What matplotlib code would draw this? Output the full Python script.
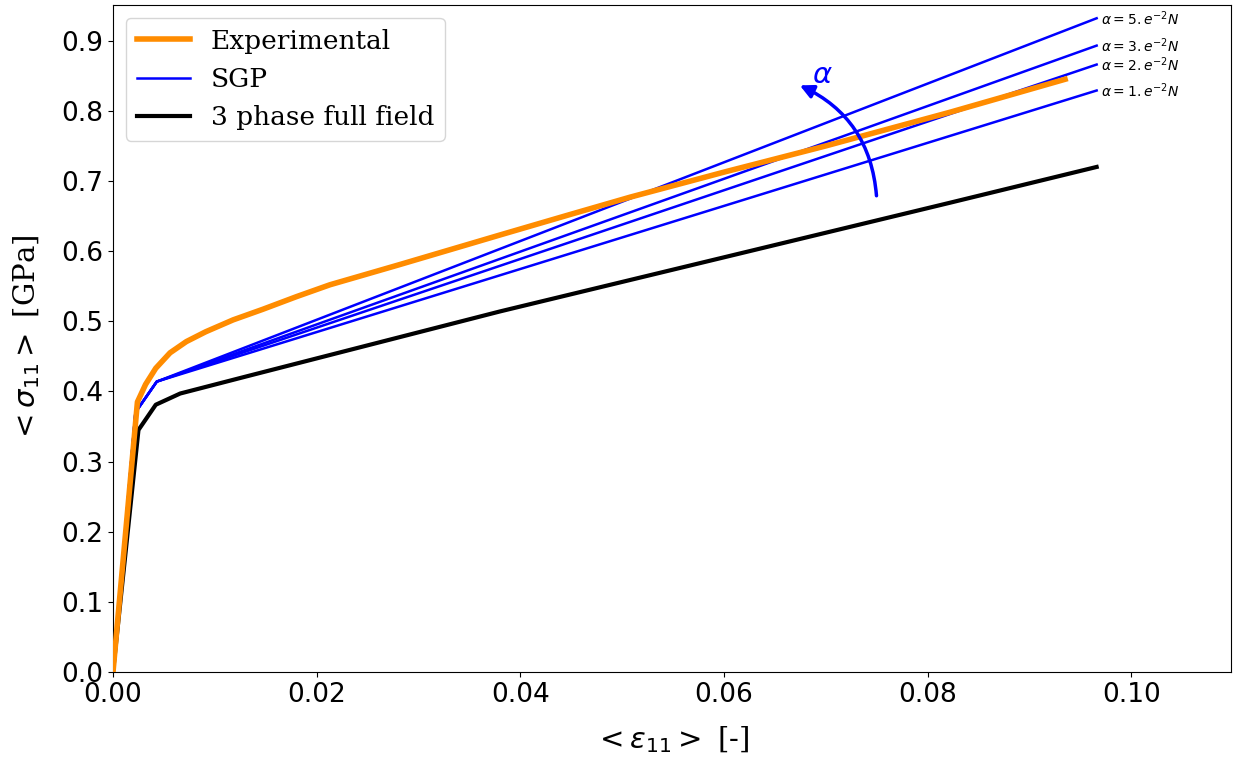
import matplotlib
matplotlib.use("Agg")
import matplotlib.pyplot as plt
from matplotlib.patches import FancyArrowPatch

# Experimental curve
exp_strain = [0.0, 0.0024, 0.0032, 0.0042, 0.0056, 0.0072, 0.0091, 0.0118, 0.0147, 0.018, 0.0213,
              0.0282, 0.038, 0.0446, 0.0508, 0.0601, 0.07, 0.0822, 0.0935]
exp_stress = [0.0, 0.385, 0.41, 0.433, 0.455, 0.471, 0.485, 0.502, 0.517, 0.535, 0.552,
              0.581, 0.623, 0.651, 0.677, 0.713, 0.75, 0.798, 0.845]

# SGP curves
sgp_strain = [0.0, 0.0022, 0.0043, 0.0966]
sgp_alpha1 = [0.0, 0.37, 0.414, 0.829]
sgp_alpha2 = [0.0, 0.37, 0.414, 0.866]
sgp_alpha3 = [0.0, 0.37, 0.414, 0.893]
sgp_alpha5 = [0.0, 0.37, 0.414, 0.932]
sgp_labels = [r"$\alpha=1.e^{-2}N$", r"$\alpha=2.e^{-2}N$", r"$\alpha=3.e^{-2}N$", r"$\alpha=5.e^{-2}N$"]

# 3 phase full field
ff_strain = [0.0, 0.0025, 0.0042, 0.0066, 0.013, 0.0216, 0.038, 0.0822, 0.0966]
ff_stress = [0.0, 0.345, 0.381, 0.397, 0.421, 0.453, 0.514, 0.669, 0.72]

xticks = [0.0, 0.02, 0.04, 0.06, 0.08, 0.10]
yticks = [0.0, 0.1, 0.2, 0.3, 0.4, 0.5, 0.6, 0.7, 0.8, 0.9]

fig = plt.figure(figsize=(12.35, 7.58), dpi=100)
ax = fig.add_axes([0.0915, 0.1135, 0.9053, 0.88])

ax.plot(exp_strain, exp_stress, color="darkorange", lw=4, label="Experimental", zorder=4)
sgps = [sgp_alpha1, sgp_alpha2, sgp_alpha3, sgp_alpha5]
for i, (s, lab) in enumerate(zip(sgps, sgp_labels)):
    ax.plot(sgp_strain, s, color="blue", lw=1.8, label="SGP" if i == 0 else None, zorder=3)
    ax.text(sgp_strain[-1] + 0.0004, s[-1], lab, fontsize=10, va="center", ha="left")
ax.plot(ff_strain, ff_stress, color="black", lw=3, label="3 phase full field", zorder=3)

arrow = FancyArrowPatch((0.075, 0.675), (0.0672, 0.838), connectionstyle="arc3,rad=0.3",
                        arrowstyle="-|>,head_length=8,head_width=4", color="blue", lw=2.5, zorder=5)
ax.add_patch(arrow)
ax.text(0.0697, 0.851, r"$\alpha$", color="blue", fontsize=21, ha="center", va="center")

ax.set_xlim(0, 0.1098)
ax.set_ylim(0, 0.951)
ax.set_xticks(xticks)
ax.set_yticks(yticks)
ax.set_xticklabels([f"{v:.2f}" for v in xticks])
ax.set_yticklabels([f"{v:.1f}" for v in yticks])
ax.tick_params(labelsize=19)
ax.set_xlabel(r"$<\varepsilon_{11}>$ [-]", fontsize=21, family="DejaVu Serif", labelpad=12)
ax.set_ylabel(r"$<\sigma_{11}>$ [GPa]", fontsize=21, family="DejaVu Serif", labelpad=14)

leg = ax.legend(loc="upper left", prop={"family": "DejaVu Serif", "size": 19})

fig.savefig("out.png", dpi=100)
